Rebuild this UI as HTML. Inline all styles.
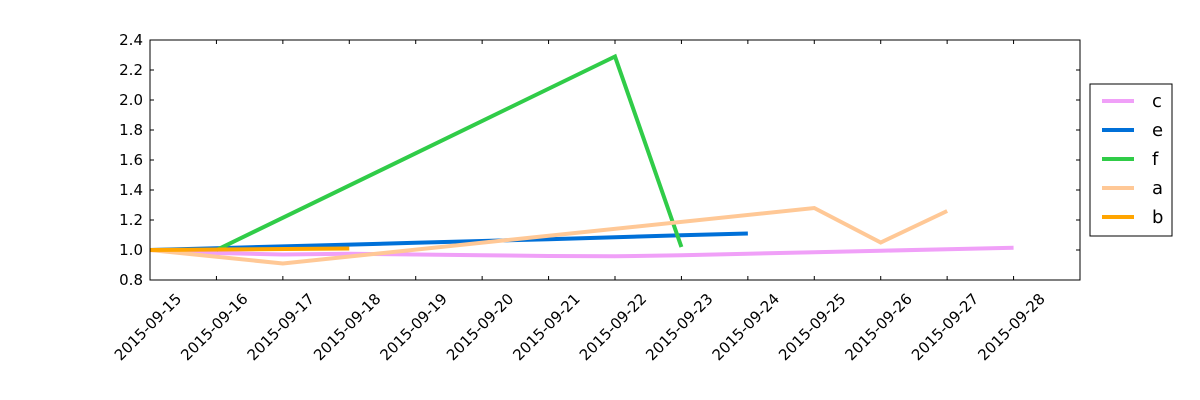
<!DOCTYPE html>
<html><head><meta charset="utf-8"><style>
body{margin:0;background:#fff;}
svg{display:block;font-family:"DejaVu Sans","Liberation Sans",sans-serif;}
</style></head><body>
<svg id="chart" width="1200" height="400">
<rect width="1200" height="400" fill="#fff"/>
<g id="grid"></g>
<g id="series"></g>
<rect x="150" y="40" width="930" height="240" fill="none" stroke="#000" stroke-width="1"/>
<g id="legend"></g>
</svg>
<script>
const dates = ["2015-09-15","2015-09-16","2015-09-17","2015-09-18","2015-09-19","2015-09-20","2015-09-21","2015-09-22","2015-09-23","2015-09-24","2015-09-25","2015-09-26","2015-09-27","2015-09-28"];
const yTicks = [0.8,1.0,1.2,1.4,1.6,1.8,2.0,2.2,2.4];
const seriesNames = ["c","e","f","a","b"];
const seriesColors = ["#f0a0f8","#0070d8","#30cc48","#ffc896","#ffa500"];
const cDays = [0,1,2,3,4,5,6,7,8,9,10,11,12,13];
const cVals = [1.0,0.98,0.97,0.975,0.97,0.965,0.96,0.958,0.965,0.975,0.985,0.995,1.005,1.015];
const eDays = [0,1,2,3,4,5,6,7,8,9];
const eVals = [1.0,1.012,1.024,1.036,1.048,1.06,1.072,1.085,1.098,1.11];
const fDays = [1,7,8];
const fVals = [1.0,2.29,1.02];
const aDays = [0,2,10,11,12];
const aVals = [1.0,0.91,1.28,1.05,1.26];
const bDays = [0,3];
const bVals = [1.0,1.01];
const allDays=[cDays,eDays,fDays,aDays,bDays], allVals=[cVals,eVals,fVals,aVals,bVals];
const NS="http://www.w3.org/2000/svg";
const X0=150,X1=1080,Y0=280,Y1=40,XMAX=14,YMIN=0.8,YMAX=2.4;
const xs=d=>X0+(X1-X0)*d/XMAX, ys=v=>Y0-(Y0-Y1)*(v-YMIN)/(YMAX-YMIN);
const grid=document.getElementById('grid'), ser=document.getElementById('series'), leg=document.getElementById('legend');
function mk(t,a,p){const e=document.createElementNS(NS,t);for(const k in a)e.setAttribute(k,a[k]);p.appendChild(e);return e;}
yTicks.forEach(v=>{const y=ys(v);
 const l=mk('line',{x1:X0,x2:X0+4,y1:y,y2:y,stroke:'#000'},grid);
 
 
 mk('line',{x1:X1-4,x2:X1,y1:y,y2:y,stroke:'#000'},grid);
 const t=mk('text',{x:X0-7,y:y+5,'text-anchor':'end','font-size':'15'},grid);t.textContent=v.toFixed(1);
 
 
});
dates.forEach((d,i)=>{const x=xs(i);
 const l=mk('line',{x1:x,x2:x,y1:Y0,y2:Y0-4,stroke:'#000'},grid);
 
 
 mk('line',{x1:x,x2:x,y1:Y1,y2:Y1+4,stroke:'#000'},grid);
 const tx=x-2, ty=Y0+47;
 const t=mk('text',{x:tx,y:ty+5,'text-anchor':'middle','font-size':'15',transform:`rotate(-45 ${tx} ${ty})`},grid);t.textContent=d;
 
 
});
seriesNames.forEach((n,i)=>{
 const pts=allDays[i].map((d,j)=>xs(d)+','+ys(allVals[i][j])).join(' ');
 const p=mk('polyline',{points:pts,fill:'none',stroke:seriesColors[i],'stroke-width':4,'stroke-linejoin':'miter'},ser);
 
 
});
mk('rect',{x:1090,y:84,width:82,height:152,fill:'#fff',stroke:'#000'},leg);
seriesNames.forEach((n,i)=>{const y=101+i*29;
 const g=mk('g',{},leg);
 
 
 mk('line',{x1:1102,x2:1134,y1:y,y2:y,stroke:seriesColors[i],'stroke-width':4},g);
 const t=mk('text',{x:1152,y:y+6,'font-size':'18'},g);t.textContent=n;
});
</script>
</body></html>
